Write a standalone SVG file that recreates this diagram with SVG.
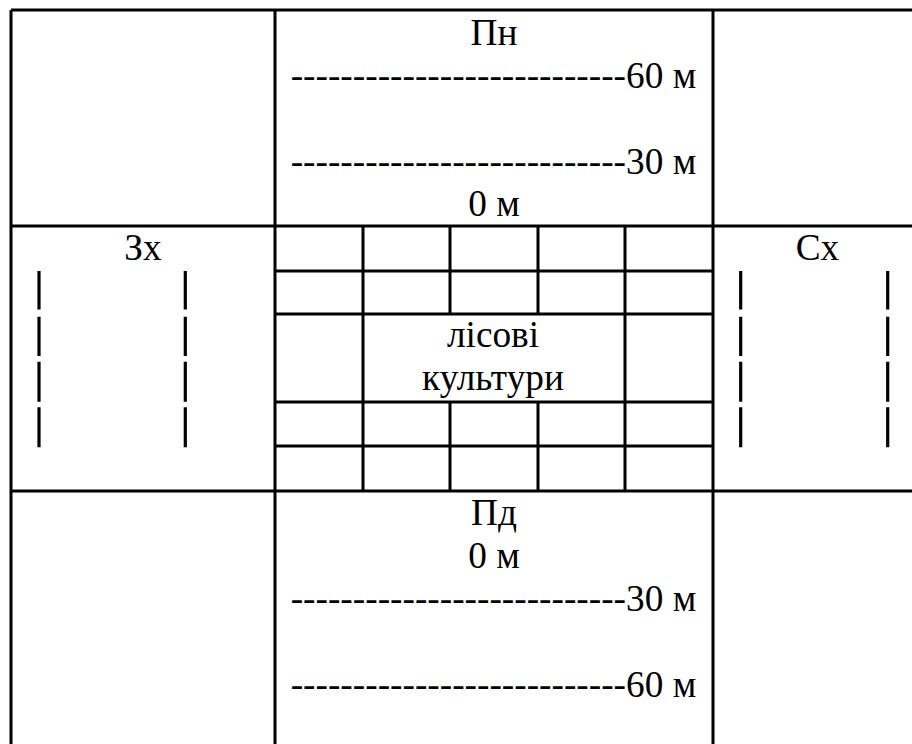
<svg xmlns="http://www.w3.org/2000/svg" width="912" height="744" viewBox="0 0 912 744">
<style>
text{font-family:Liberation Serif,serif !important;font-size:37.3px;fill:#000}
.c{text-anchor:middle}
.ln{stroke:#000;stroke-width:3;fill:none}
.bar{stroke:#000;stroke-width:3.2;fill:none}
</style>
<rect width="912" height="744" fill="#fff"/>
<g id="table-lines">
<path class="ln" d="M11,10H912M11,226H912M11,491H912M11,10V744M275,10V744M713,10V744"/>
</g>
<g id="north">
<text class="c" x="494" y="45" font-family="Liberation Serif" style="font-family:Liberation Serif,serif">Пн</text>
<text x="290.7" y="88" font-family="Liberation Serif" style="font-family:Liberation Serif,serif">---------------------------60 м</text>
<text x="290.7" y="174" font-family="Liberation Serif" style="font-family:Liberation Serif,serif">---------------------------30 м</text>
<text class="c" x="494" y="216" font-family="Liberation Serif" style="font-family:Liberation Serif,serif">0 м</text>
</g>
<g id="west">
<text class="c" x="143" y="260" font-family="Liberation Serif" style="font-family:Liberation Serif,serif">Зх</text>
<path class="bar" d="M39,271V309.5M39,316.7V356M39,361.7V401.7M39,407.3V447.3M185.3,271V309.5M185.3,316.7V356M185.3,361.7V401.7M185.3,407.3V447.3"/>
</g>
<g id="center">
<path class="ln" d="M363,226V491M625,226V491M450,226V314M538,226V314M450,402V491M538,402V491M275,271H713M275,314H713M275,402H713M275,446H713"/>
<text class="c" x="493" y="347" font-family="Liberation Serif" style="font-family:Liberation Serif,serif">лісові</text>
<text class="c" x="493" y="390" font-family="Liberation Serif" style="font-family:Liberation Serif,serif">культури</text>
</g>
<g id="east">
<text class="c" x="817.5" y="260" font-family="Liberation Serif" style="font-family:Liberation Serif,serif">Сх</text>
<path class="bar" d="M740.7,271V309.5M740.7,316.7V356M740.7,361.7V401.7M740.7,407.3V447.3M887.7,271V309.5M887.7,316.7V356M887.7,361.7V401.7M887.7,407.3V447.3"/>
</g>
<g id="south">
<text class="c" x="494" y="525" font-family="Liberation Serif" style="font-family:Liberation Serif,serif">Пд</text>
<text class="c" x="494" y="568" font-family="Liberation Serif" style="font-family:Liberation Serif,serif">0 м</text>
<text x="290.7" y="611" font-family="Liberation Serif" style="font-family:Liberation Serif,serif">---------------------------30 м</text>
<text x="290.7" y="697" font-family="Liberation Serif" style="font-family:Liberation Serif,serif">---------------------------60 м</text>
</g>
</svg>
